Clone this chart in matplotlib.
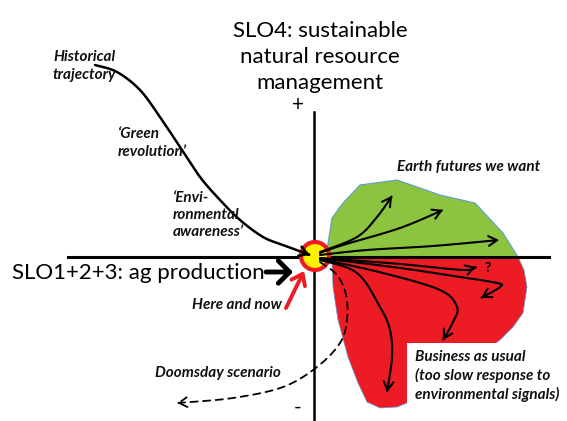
import numpy as np
import matplotlib.pyplot as plt
from matplotlib.path import Path
from matplotlib.patches import Polygon, Circle, FancyArrowPatch, Rectangle

plt.rcParams['font.family'] = ['Lato', 'DejaVu Sans']

# sketch coordinates are in pixels of the original drawing (y grows downwards)
green_zone = [(318, 257), (327, 250), (332, 218), (343, 203), (360, 185), (397, 180),
              (440, 195), (475, 203), (503, 233), (518, 257)]
red_zone = [(318, 257), (518, 257), (524, 270), (527, 287), (523, 313), (513, 327),
            (500, 340), (470, 362), (440, 384), (407, 403), (397, 407), (380, 408),
            (367, 402), (358, 383), (348, 357), (338, 320), (333, 287), (332, 263)]

historical = [(95, 65), (117, 72), (140, 90), (160, 117), (180, 147), (200, 177),
              (220, 200), (240, 220), (263, 237), (283, 245), (310, 255)]
green_arrows = [
    [(320, 252), (357, 237), (377, 217), (392, 196)],
    [(320, 253), (343, 245), (400, 228), (443, 210)],
    [(320, 255), (367, 250), (433, 246), (499, 240)],
]
red_arrows = [
    [(320, 258), (400, 264), (463, 270), (476, 267)],
    [(320, 258), (400, 268), (460, 277), (497, 283), (500, 287), (481, 298)],
    [(320, 259), (383, 273), (440, 290), (457, 307), (453, 322), (443, 340)],
    [(320, 260), (357, 273), (380, 307), (390, 330), (392, 357), (387, 392)],
]
doomsday = [(320, 262), (337, 275), (346, 295), (347, 320), (340, 343), (317, 367),
            (283, 387), (233, 398), (177, 403)]

title_lines = 'SLO4: sustainable\nnatural resource\nmanagement'
x_label = 'SLO1+2+3: ag production'
notes = [
    ('Historical\ntrajectory', 53, 66),
    ('\u2018Green\nrevolution\u2019', 118, 143),
    ('\u2018Envi-\nronmental\nawareness\u2019', 173, 215),
    ('Earth futures we want', 397, 167),
    ('Here and now', 192, 305),
    ('Doomsday scenario', 155, 373),
    ('Business as usual\n(too slow response to\nenvironmental signals)', 415, 376),
]


def smooth(pts, n=20):
    # catmull-rom through the hand-picked points
    p = np.array(pts, float)
    p = np.vstack([p[0], p, p[-1]])
    out = []
    t = np.linspace(0, 1, n, endpoint=False)[:, None]
    for i in range(1, len(p) - 2):
        p0, p1, p2, p3 = p[i - 1], p[i], p[i + 1], p[i + 2]
        out.append(0.5 * (2 * p1 + (-p0 + p2) * t + (2 * p0 - 5 * p1 + 4 * p2 - p3) * t ** 2
                          + (-p0 + 3 * p1 - 3 * p2 + p3) * t ** 3))
    out.append(p[-2][None])
    return np.vstack(out)


def curve_arrow(ax, pts, color='black', lw=1.5, ls='-', z=5):
    arr = FancyArrowPatch(path=Path(smooth(pts)), arrowstyle='->,head_length=0.6,head_width=0.35',
                          mutation_scale=10, lw=lw, color=color, linestyle=ls, zorder=z)
    ax.add_patch(arr)


fig = plt.figure(figsize=(5.67, 4.21), dpi=100)
ax = fig.add_axes([0, 0, 1, 1])
ax.set_xlim(0, 567)
ax.set_ylim(421, 0)
ax.axis('off')

ax.add_patch(Polygon(green_zone, closed=True, fc='#8CC43F', ec='#5B9BD5', lw=0.8, zorder=1))
ax.add_patch(Polygon(red_zone, closed=True, fc='#ED1C24', ec='#5B9BD5', lw=0.5, zorder=1))
ax.add_patch(Rectangle((407, 343), 160, 78, fc='white', ec='none', zorder=2))

# axes of the diagram
ax.plot([68, 549], [257, 257], color='black', lw=2.2, zorder=3)
ax.plot([314, 314], [112, 421], color='black', lw=1.8, zorder=3)
ax.text(298, 105, '+', fontsize=15, ha='center', va='center')
ax.text(298, 408, '-', fontsize=15, ha='center', va='center')

ax.add_patch(Circle((315, 256), 14, fc='#FFF200', ec='#ED1C24', lw=3, zorder=4))

curve_arrow(ax, historical, lw=1.8)
for a in green_arrows:
    curve_arrow(ax, a)
for a in red_arrows:
    curve_arrow(ax, a)
curve_arrow(ax, doomsday, ls=(0, (4, 3)), lw=1.3)
ax.text(488, 268, '?', fontsize=10, fontweight='bold', ha='center', va='center', zorder=6)

# red pointer to the present state
ax.add_patch(FancyArrowPatch((286, 308), (304, 271), arrowstyle='->,head_length=0.6,head_width=0.45',
                             mutation_scale=12, lw=2.8, color='#ED1C24', shrinkA=0, shrinkB=0,
                             zorder=6))
# thick arrow after the x label
ax.add_patch(FancyArrowPatch((266, 272), (293, 272), arrowstyle='->,head_length=0.45,head_width=0.45',
                             mutation_scale=18, lw=3.5, color='black', shrinkA=0, shrinkB=0,
                             zorder=6))

ax.text(320, 57, title_lines, fontsize=16, ha='center', va='center', linespacing=1.38)
ax.text(12, 273, x_label, fontsize=16, ha='left', va='center')

for txt, x, y in notes:
    ax.text(x, y, txt, fontsize=11, fontweight='bold', style='italic', ha='left', va='center',
            linespacing=1.3, color='#111111', zorder=7)

fig.savefig('out.png', dpi=100)
